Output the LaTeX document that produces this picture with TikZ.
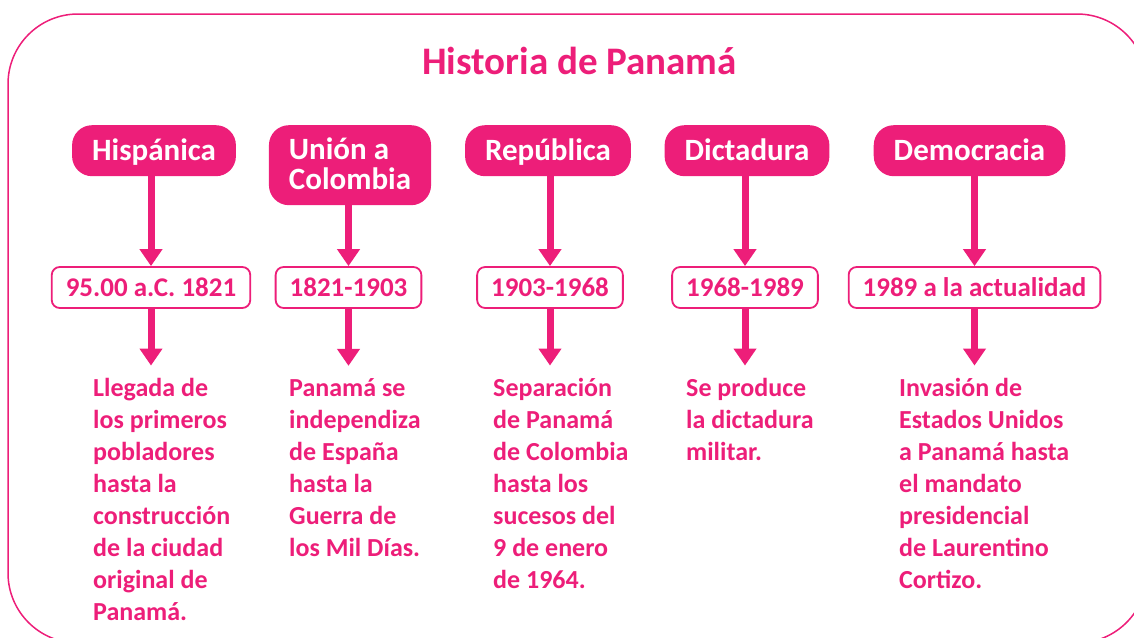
\documentclass[tikz,border=0pt]{standalone}
\usepackage{fontspec}
\setmainfont{Carlito}
\usetikzlibrary{arrows.meta,positioning}
\definecolor{rosa}{HTML}{ED1E79}

\begin{document}
\begin{tikzpicture}[x=1pt, y=-1pt,
    etapa/.style={fill=rosa, text=white, rounded corners=20pt, minimum width=160pt,
      minimum height=51pt, inner xsep=20pt, inner ysep=6pt, anchor=north,
      text height=23pt, text depth=4pt,
      font=\fontsize{31}{30}\selectfont\bfseries},
    fecha/.style={draw=rosa, line width=1.8pt, fill=white, text=rosa, rounded corners=8pt,
      minimum height=41pt, inner xsep=14pt, inner ysep=4pt,
      font=\fontsize{27}{30}\selectfont\bfseries},
    texto/.style={text=rosa, align=left, anchor=base west, inner sep=0pt,
      font=\fontsize{26}{32}\selectfont\bfseries},
    flecha/.style={color=rosa, line width=7pt, -{Triangle[width=22pt,length=17pt]}}]

    \useasboundingbox (0,0) rectangle (1134,637);
    \clip (0,0) rectangle (1134,637);
    \draw[rosa, line width=1.5pt, rounded corners=70pt] (8,14) rectangle (1147,643);

    \node[text=rosa, anchor=base, font=\fontsize{39}{40}\selectfont\bfseries] (titulo)
      at (579.5,74) {Historia de Panamá};

    % etapas
    \node[etapa] (h1) at (154,125) {Hispánica};
    \node[etapa, align=left, minimum height=80pt, text height=52pt] (h2) at (350,125) {Unión a\\Colombia};
    \node[etapa] (h3) at (548,125) {República};
    \node[etapa] (h4) at (747,125) {Dictadura};
    \node[etapa] (h5) at (969.5,125) {Democracia};

    % fechas
    \node[fecha] (d1) at (151,287.5) {95.00 a.C. 1821};
    \node[fecha] (d2) at (348.5,287.5) {1821-1903};
    \node[fecha] (d3) at (550,287.5) {1903-1968};
    \node[fecha] (d4) at (745,287.5) {1968-1989};
    \node[fecha] (d5) at (974.5,287.5) {1989 a la actualidad};

    % textos (base = ultima linea)
    \node[texto] (b1) at (93,620) {Llegada de\\los primeros\\pobladores\\hasta la\\construcción\\de la ciudad\\original de\\Panamá.};
    \node[texto] (b2) at (289,556) {Panamá se\\independiza\\de España\\hasta la\\Guerra de\\los Mil Días.};
    \node[texto] (b3) at (493,588) {Separación\\de Panamá\\de Colombia\\hasta los\\sucesos del\\9 de enero\\de 1964.};
    \node[texto] (b4) at (686,460) {Se produce\\la dictadura\\militar.};
    \node[texto] (b5) at (899,588) {Invasión de\\Estados Unidos\\a Panamá hasta\\el mandato\\presidencial\\de Laurentino\\Cortizo.};

    \path[flecha]
      (h1.south -| d1.north) edge (d1.north)
      (h2.south -| d2.north) edge (d2.north)
      (h3.south -| d3.north) edge (d3.north)
      (h4.south -| d4.north) edge (d4.north)
      (h5.south -| d5.north) edge (d5.north);
    \path[flecha, shorten >=12pt]
      (d1.south) edge (d1.south |- b1.north)
      (d2.south) edge (d2.south |- b2.north)
      (d3.south) edge (d3.south |- b3.north)
      (d4.south) edge (d4.south |- b4.north)
      (d5.south) edge (d5.south |- b5.north);
\end{tikzpicture}
\end{document}
